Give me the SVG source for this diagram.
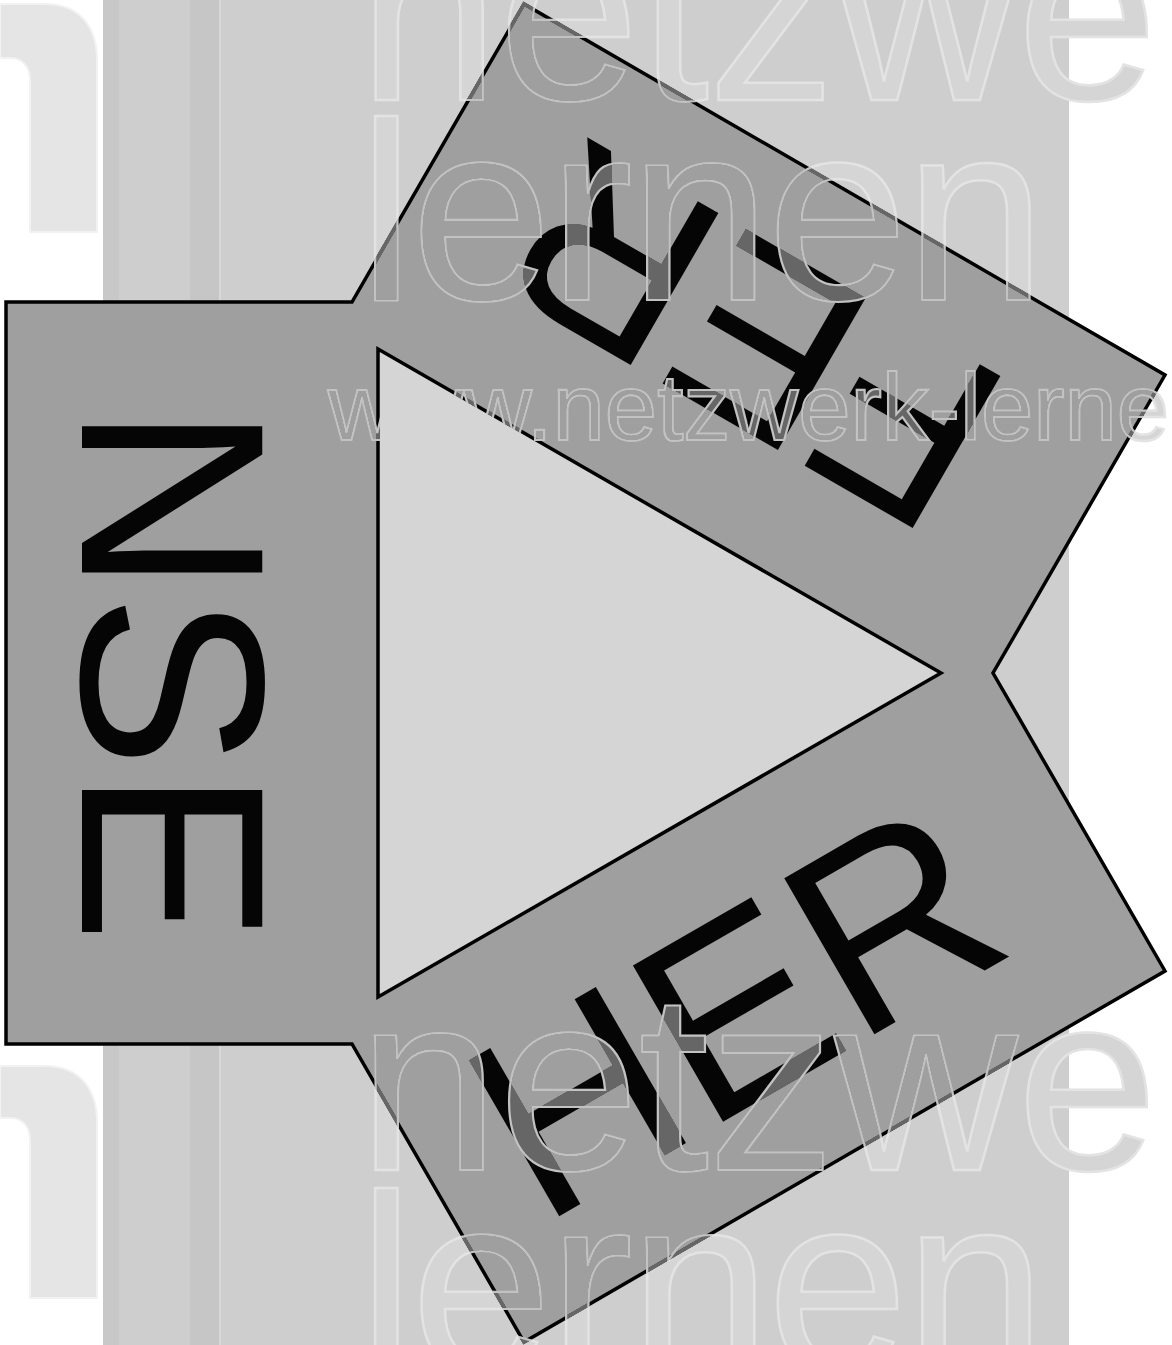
<svg xmlns="http://www.w3.org/2000/svg" width="1172" height="1345" viewBox="0 0 1172 1345">
<style>
.wm{font-family:"Liberation Sans",Arial,sans-serif;}
.under{fill:#d5d5d5;stroke:#e3e3e3;stroke-width:2.5;}
.over{fill:#666666;stroke:#c2c2c2;stroke-width:2.2;}
.lbl{font-family:"Liberation Sans",Arial,sans-serif;fill:#050505;}
.edge{stroke:#000;stroke-width:3.5;stroke-linejoin:miter;}
</style>
<defs>
<g id="wmtext">
<text class="wm" x="358" y="100" font-size="254" textLength="800" lengthAdjust="spacing">netzwe</text>
<text class="wm" x="358" y="300" font-size="254" textLength="688" lengthAdjust="spacing">lernen</text>
<text class="wm" x="328" y="440" font-size="94">www.netzwerk-lerne</text>
<text class="wm" x="358" y="1170" font-size="254" textLength="800" lengthAdjust="spacing">netzwe</text>
<text class="wm" x="358" y="1372" font-size="254" textLength="688" lengthAdjust="spacing">lernen</text>
</g>
</defs>
<g id="background">
<rect x="0" y="0" width="1172" height="1345" fill="#ffffff"/>
<path d="M0,4 H45 C78,4 97,25 97,60 V232 H30 V80 C30,66 22,58 10,58 H0 Z" fill="#e5e5e5" stroke="#f2f2f2" stroke-width="2"/>
<path d="M0,1066 H45 C78,1066 97,1087 97,1122 V1298 H30 V1140 C30,1126 22,1118 10,1118 H0 Z" fill="#e5e5e5" stroke="#f2f2f2" stroke-width="2"/>
<rect x="103" y="0" width="966" height="1345" fill="#cecece"/>
<rect x="103" y="0" width="16" height="1345" fill="#c8c8c8"/>
<rect x="190" y="0" width="30" height="1345" fill="#c6c6c6"/>
<line x1="220" y1="0" x2="220" y2="1345" stroke="#d8d8d8" stroke-width="2"/>
<use href="#wmtext" class="under"/>
</g>
<g id="net">
<polygon class="edge" fill="#9f9f9f" points="6,302 352,302 524,4 1165,375 993,673 1165,971 524,1342 352,1044 6,1044"/>
</g>
<g id="triangle">
<polygon class="edge" fill="#d5d5d5" points="378,349 941,673 378,997"/>
</g>
<g id="strip-left">
<text class="lbl" transform="translate(82,674) rotate(90)" text-anchor="middle" font-size="262">NSE</text>
</g>
<g id="strip-top">
<text class="lbl" transform="translate(1018.6,386.5) rotate(210)" font-size="255">FER</text>
</g>
<g id="strip-bottom">
<text class="lbl" transform="translate(540.6,1227) rotate(-30)" font-size="262">HER</text>
</g>
<g id="watermark" style="mix-blend-mode:lighten">
<use href="#wmtext" class="over"/>
</g>
</svg>
